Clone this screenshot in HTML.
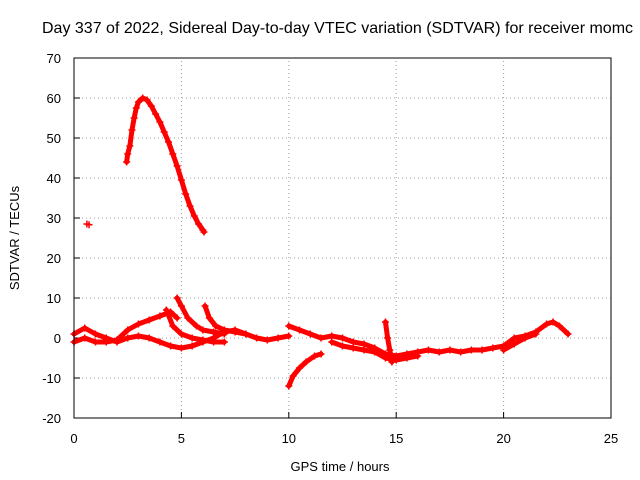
<!DOCTYPE html>
<html><head><meta charset="utf-8"><style>
body{margin:0;background:#fff;}
svg{display:block;font-family:"Liberation Sans",sans-serif;font-size:13px;}
</style></head><body>
<svg id="chart" width="640" height="480" viewBox="0 0 640 480">
<text x="42" y="33" fill="#000" style="font-size:16px">Day 337 of 2022, Sidereal Day-to-day VTEC variation (SDTVAR) for receiver momc</text>
<text transform="translate(19,238) rotate(-90)" text-anchor="middle">SDTVAR / TECUs</text>
<text x="340" y="471" text-anchor="middle">GPS time / hours</text>
<g id="grid"></g>
<g id="ticks"></g>
<g id="series"></g>
<rect x="74" y="58" width="537" height="360" fill="none" stroke="#000" stroke-width="1"/>
</svg>
<script>
const xTicks=[0,5,10,15,20,25];
const yTicks=[-20,-10,0,10,20,30,40,50,60,70];
const arcMain=[[2.45,44],[2.5,46],[2.6,48],[2.7,52],[2.8,55],[2.9,57.5],[3.0,59],[3.2,60],[3.4,59.5],[3.6,58],[3.8,56],[4.0,54],[4.2,51.5],[4.4,49],[4.6,46],[4.8,43],[5.0,39.5],[5.2,36],[5.4,33],[5.6,30.5],[5.8,28.5],[6.0,27],[6.05,26.5]];
const isolated=[[0.6,28.5],[0.7,28.3]];
const bandA=[[0,1],[0.5,2.5],[1,1],[1.5,0],[2,-1],[2.5,0],[3,0.5],[3.5,0],[4,-1],[4.5,-2],[5,-2.5],[5.5,-2],[6,-1],[6.5,0],[7,1.5],[7.5,2],[8,1],[8.5,0],[9,-0.5],[9.5,0],[10,0.5]];
const bandB=[[0,-1],[0.5,0],[1,-1],[1.5,-1],[2,-0.5],[2.5,2],[3,3.5],[3.5,4.5],[4,5.5],[4.5,6.5],[4.8,5]];
const bandC=[[4.8,10],[5,8],[5.3,5],[5.7,3],[6,2],[6.5,1.5],[7,1]];
const bandD=[[6.1,8],[6.3,5],[6.6,3],[7,2],[7.5,1.5],[8,1]];
const bandE=[[4.3,7],[4.6,3],[5,1],[5.5,0],[6,-0.5],[6.5,-1],[7,-1]];
const bandF=[[10,-12],[10.2,-9.5],[10.5,-7.5],[10.8,-6],[11.2,-4.5],[11.5,-4]];
const bandG=[[10,3],[10.5,2],[11,1],[11.5,0],[12,0.5],[12.5,0],[13,-1],[13.5,-1.5],[14,-2.5],[14.5,-4],[15,-4.5],[15.5,-4],[16,-3.5],[16.5,-3],[17,-3.5],[17.5,-3],[18,-3.5],[18.5,-3],[19,-3],[19.5,-2.5],[20,-2],[20.5,0],[21,0.5],[21.5,1.5],[22,3.5],[22.3,4],[22.6,3],[23,1]];
const bandH=[[20,-3],[20.5,-1.5],[21,0],[21.5,1]];
const bandI=[[14.5,4],[14.6,0],[14.7,-3],[14.8,-6]];
const bandJ=[[12,-1],[12.5,-2],[13,-2.5],[13.5,-3],[14,-3.5],[14.5,-5],[15,-5.5],[15.5,-5],[16,-4.5]];
const allSeries=[arcMain,isolated,bandA,bandB,bandC,bandD,bandE,bandF,bandG,bandH,bandI,bandJ];
const seriesNames=['main-arc','isolated-point','band-a','band-b','band-c','band-d','band-e','band-f','band-g','band-h','band-i','band-j'];

const X0=74,X1=611,Y0=418,Y1=58;
const xs=v=>X0+(v-0)/25*(X1-X0);
const ys=v=>Y0-(v+20)/90*(Y0-Y1);
const NS='http://www.w3.org/2000/svg';
const grid=document.getElementById('grid'),ticks=document.getElementById('ticks'),ser=document.getElementById('series');
function mk(t,a){const e=document.createElementNS(NS,t);for(const k in a)e.setAttribute(k,a[k]);return e;}
xTicks.forEach(v=>{
 const x=xs(v);
 if(v>0&&v<25){const l=mk('line',{x1:x,y1:Y0,x2:x,y2:Y1,stroke:'#a0a0a0','stroke-dasharray':'1,3'});
 
 grid.appendChild(l);}
 const t=mk('text',{x:x,y:443,'text-anchor':'middle'});t.textContent=v;
 
 ticks.appendChild(t);
 const tk=mk('line',{x1:x,y1:Y0,x2:x,y2:Y0-6,stroke:'#000'});ticks.appendChild(tk);
});
yTicks.forEach(v=>{
 const y=ys(v);
 if(v>-20&&v<70){const l=mk('line',{x1:X0,y1:y,x2:X1,y2:y,stroke:'#a0a0a0','stroke-dasharray':'1,3'});
 
 grid.appendChild(l);}
 const t=mk('text',{x:61,y:y+5,'text-anchor':'end'});t.textContent=v;
 
 ticks.appendChild(t);
 const tk=mk('line',{x1:X0,y1:y,x2:X0+6,y2:y,stroke:'#000'});ticks.appendChild(tk);
});
allSeries.forEach((s,i)=>{
 const g=mk('g',{});
 
 
 if(s.length>2){
  const p=mk('polyline',{points:s.map(d=>xs(d[0])+','+ys(d[1])).join(' '),fill:'none',stroke:'#ff0000','stroke-width':5,'stroke-linejoin':'round','stroke-linecap':'round'});
  g.appendChild(p);
 }
 s.forEach(d=>{
  const x=xs(d[0]),y=ys(d[1]);
  const m=mk('path',{d:`M${x-3.5},${y}h7M${x},${y-3.5}v7`,stroke:'#ff0000','stroke-width':1.5});
  
  
  g.appendChild(m);
 });
 ser.appendChild(g);
});
</script>
</body></html>
